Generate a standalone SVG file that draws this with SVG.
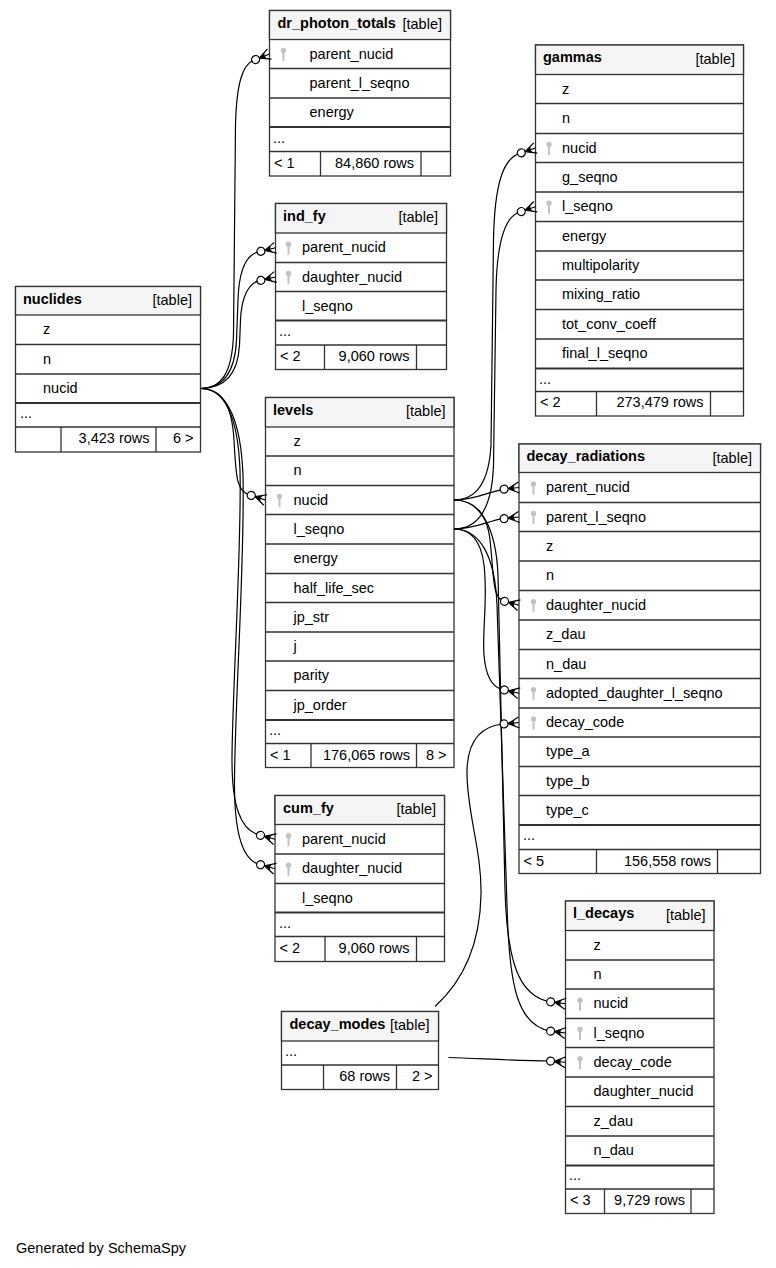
<svg xmlns="http://www.w3.org/2000/svg" xmlns:xlink="http://www.w3.org/1999/xlink" width="776" height="1268" viewBox="0 0 776 1268">
<style>
.frame{fill:#fff;stroke:#333;stroke-width:1.3}
.hdr{fill:#f5f5f5;stroke:#333;stroke-width:1.3}
.ln{fill:none;stroke:#333;stroke-width:1.3}
.thk{fill:none;stroke:#333;stroke-width:2.2}
text{font-family:"Liberation Sans",Arial,sans-serif;font-size:14.5px;fill:#000}
.b{font-weight:bold}
.e{text-anchor:end}
.edge{fill:none;stroke:#000;stroke-width:1.2}
</style>
<defs>
<g id="key" fill="#c2c2c2">
<circle cx="0" cy="-3.6" r="2.7"/>
<rect x="-1" y="-3.6" width="2" height="10.6"/>
</g>
<g id="crow">
<path d="M-11,0 L0,-5.5 M-11,0 L0,0 M-11,0 L0,5.5" fill="none" stroke="#000" stroke-width="1.2"/>
<path d="M-11,0 L-4,-3.3 L-5.5,0 L-4,3.3 Z" fill="#000"/>
<circle cx="-15" cy="0" r="4" fill="#fff" stroke="#000" stroke-width="1.2"/>
</g>
</defs>
<rect x="0" y="0" width="776" height="1268" fill="#fff"/>

<g id="nuclides">
<rect class="frame" x="15.5" y="286.5" width="185" height="165.5"/>
<rect class="hdr" x="15.5" y="286.5" width="185" height="28.5"/>
<path class="ln" d="M15.5,344.5H200.5M15.5,374H200.5M15.5,427H200.5M61,427V452M156,427V452"/>
<path class="thk" d="M15.5,403H200.5"/>
<text class="b" x="23" y="303.5">nuclides</text>
<text class="e" x="192" y="305">[table]</text>
<text x="43" y="334.3">z</text>
<text x="43" y="363.8">n</text>
<text x="43" y="393">nucid</text>
<text x="20" y="418">...</text>
<text class="e" x="149.5" y="443">3,423 rows</text>
<text class="e" x="193.5" y="443">6 &gt;</text>
</g>

<g id="dr_photon_totals">
<rect class="frame" x="269.5" y="10.5" width="181" height="165.5"/>
<rect class="hdr" x="269.5" y="10.5" width="181" height="29"/>
<path class="ln" d="M269.5,68.5H450.5M269.5,98H450.5M269.5,151.5H450.5M320.5,151.5V176M421,151.5V176"/>
<path class="thk" d="M269.5,127H450.5"/>
<text class="b" x="277.5" y="27.5">dr_photon_totals</text>
<text class="e" x="442" y="29">[table]</text>
<use xlink:href="#key" x="283.5" y="54"/>
<text x="309.5" y="58.5">parent_nucid</text>
<text x="309.5" y="87.8">parent_l_seqno</text>
<text x="309.5" y="117">energy</text>
<text x="273" y="142.5">...</text>
<text x="274" y="167.5">&lt; 1</text>
<text class="e" x="414" y="167.5">84,860 rows</text>
</g>

<g id="ind_fy">
<rect class="frame" x="275.5" y="203.5" width="171" height="166"/>
<rect class="hdr" x="275.5" y="203.5" width="171" height="29.5"/>
<path class="ln" d="M275.5,262.5H446.5M275.5,291.5H446.5M275.5,345H446.5M324.5,345V369.5M416.5,345V369.5"/>
<path class="thk" d="M275.5,320.5H446.5"/>
<text class="b" x="283" y="220.5">ind_fy</text>
<text class="e" x="438" y="222">[table]</text>
<use xlink:href="#key" x="288.5" y="247.75"/>
<use xlink:href="#key" x="288.5" y="277"/>
<text x="302" y="252.3">parent_nucid</text>
<text x="302" y="281.5">daughter_nucid</text>
<text x="302" y="310.5">l_seqno</text>
<text x="279" y="335.5">...</text>
<text x="280" y="361">&lt; 2</text>
<text class="e" x="409.5" y="361">9,060 rows</text>
</g>

<g id="gammas">
<rect class="frame" x="535.5" y="45" width="208" height="371"/>
<rect class="hdr" x="535.5" y="45" width="208" height="29.5"/>
<path class="ln" d="M535.5,103.5H743.5M535.5,133.5H743.5M535.5,162.5H743.5M535.5,192H743.5M535.5,221.5H743.5M535.5,251H743.5M535.5,280H743.5M535.5,309.5H743.5M535.5,339H743.5M535.5,391.5H743.5M596.5,391.5V416M710.5,391.5V416"/>
<path class="thk" d="M535.5,368.5H743.5"/>
<text class="b" x="543" y="62">gammas</text>
<text class="e" x="735" y="63.5">[table]</text>
<use xlink:href="#key" x="549" y="148"/>
<use xlink:href="#key" x="549" y="206.75"/>
<text x="562" y="93.5">z</text>
<text x="562" y="123">n</text>
<text x="562" y="152.5">nucid</text>
<text x="562" y="181.8">g_seqno</text>
<text x="562" y="211.3">l_seqno</text>
<text x="562" y="240.8">energy</text>
<text x="562" y="270">multipolarity</text>
<text x="562" y="299.3">mixing_ratio</text>
<text x="562" y="328.8">tot_conv_coeff</text>
<text x="562" y="358.3">final_l_seqno</text>
<text x="539" y="383.5">...</text>
<text x="540" y="407">&lt; 2</text>
<text class="e" x="703.5" y="407">273,479 rows</text>
</g>

<g id="levels">
<rect class="frame" x="265.5" y="397.5" width="188.5" height="370"/>
<rect class="hdr" x="265.5" y="397.5" width="188.5" height="29.5"/>
<path class="ln" d="M265.5,456H454M265.5,485.5H454M265.5,514.5H454M265.5,544H454M265.5,573.5H454M265.5,602.5H454M265.5,632H454M265.5,661H454M265.5,690.5H454M265.5,743.5H454M311,743.5V767.5M416.5,743.5V767.5"/>
<path class="thk" d="M265.5,720H454"/>
<text class="b" x="273" y="414.5">levels</text>
<text class="e" x="445.5" y="416">[table]</text>
<use xlink:href="#key" x="279.5" y="500"/>
<text x="293.5" y="446">z</text>
<text x="293.5" y="475.3">n</text>
<text x="293.5" y="504.5">nucid</text>
<text x="293.5" y="533.8">l_seqno</text>
<text x="293.5" y="563.3">energy</text>
<text x="293.5" y="592.5">half_life_sec</text>
<text x="293.5" y="621.8">jp_str</text>
<text x="293.5" y="651">j</text>
<text x="293.5" y="680.3">parity</text>
<text x="293.5" y="709.8">jp_order</text>
<text x="269" y="735">...</text>
<text x="270" y="759.5">&lt; 1</text>
<text class="e" x="410" y="759.5">176,065 rows</text>
<text class="e" x="446.5" y="759.5">8 &gt;</text>
</g>

<g id="decay_radiations">
<rect class="frame" x="519" y="444" width="241.5" height="429.5"/>
<rect class="hdr" x="519" y="444" width="241.5" height="28.5"/>
<path class="ln" d="M519,502.5H760.5M519,531.5H760.5M519,561H760.5M519,590.5H760.5M519,620H760.5M519,649.5H760.5M519,678.5H760.5M519,708H760.5M519,737H760.5M519,766.5H760.5M519,795.5H760.5M519,849.5H760.5M596.5,849.5V873.5M717.5,849.5V873.5"/>
<path class="thk" d="M519,825H760.5"/>
<text class="b" x="526.5" y="461">decay_radiations</text>
<text class="e" x="752" y="462.5">[table]</text>
<use xlink:href="#key" x="533.5" y="487.5"/>
<use xlink:href="#key" x="533.5" y="517"/>
<use xlink:href="#key" x="533.5" y="605.25"/>
<use xlink:href="#key" x="533.5" y="693.25"/>
<use xlink:href="#key" x="533.5" y="722.5"/>
<text x="546" y="492">parent_nucid</text>
<text x="546" y="521.5">parent_l_seqno</text>
<text x="546" y="550.8">z</text>
<text x="546" y="580.3">n</text>
<text x="546" y="609.8">daughter_nucid</text>
<text x="546" y="639.3">z_dau</text>
<text x="546" y="668.5">n_dau</text>
<text x="546" y="697.8">adopted_daughter_l_seqno</text>
<text x="546" y="727">decay_code</text>
<text x="546" y="756.3">type_a</text>
<text x="546" y="785.5">type_b</text>
<text x="546" y="814.8">type_c</text>
<text x="523" y="840">...</text>
<text x="523.5" y="865.5">&lt; 5</text>
<text class="e" x="711" y="865.5">156,558 rows</text>
</g>

<g id="cum_fy">
<rect class="frame" x="275" y="795.5" width="169.5" height="166"/>
<rect class="hdr" x="275" y="795.5" width="169.5" height="29"/>
<path class="ln" d="M275,854H444.5M275,883.5H444.5M275,936.5H444.5M325,936.5V961.5M416.5,936.5V961.5"/>
<path class="thk" d="M275,912.5H444.5"/>
<text class="b" x="283" y="812.5">cum_fy</text>
<text class="e" x="436" y="814">[table]</text>
<use xlink:href="#key" x="288.5" y="839.25"/>
<use xlink:href="#key" x="288.5" y="868.75"/>
<text x="302" y="843.8">parent_nucid</text>
<text x="302" y="873.3">daughter_nucid</text>
<text x="302" y="902.5">l_seqno</text>
<text x="279" y="927.5">...</text>
<text x="279.5" y="952.5">&lt; 2</text>
<text class="e" x="409.5" y="952.5">9,060 rows</text>
</g>

<g id="l_decays">
<rect class="frame" x="565.5" y="901" width="148.5" height="312.5"/>
<rect class="hdr" x="565.5" y="901" width="148.5" height="29.5"/>
<path class="ln" d="M565.5,960H714M565.5,989H714M565.5,1018.5H714M565.5,1047.5H714M565.5,1077H714M565.5,1106.5H714M565.5,1136H714M565.5,1189H714M604.5,1189V1213.5M691,1189V1213.5"/>
<path class="thk" d="M565.5,1165.5H714"/>
<text class="b" x="573" y="918">l_decays</text>
<text class="e" x="705.5" y="919.5">[table]</text>
<use xlink:href="#key" x="580" y="1003.75"/>
<use xlink:href="#key" x="580" y="1033"/>
<use xlink:href="#key" x="580" y="1062.25"/>
<text x="593.5" y="949.8">z</text>
<text x="593.5" y="979">n</text>
<text x="593.5" y="1008.3">nucid</text>
<text x="593.5" y="1037.5">l_seqno</text>
<text x="593.5" y="1066.8">decay_code</text>
<text x="593.5" y="1096.3">daughter_nucid</text>
<text x="593.5" y="1125.8">z_dau</text>
<text x="593.5" y="1155.3">n_dau</text>
<text x="569" y="1180">...</text>
<text x="570" y="1204.5">&lt; 3</text>
<text class="e" x="685" y="1204.5">9,729 rows</text>
</g>

<g id="decay_modes">
<rect class="frame" x="281.5" y="1011.5" width="157" height="78"/>
<rect class="hdr" x="281.5" y="1011.5" width="157" height="29.5"/>
<path class="ln" d="M281.5,1065H438.5M323.5,1065V1089.5M396.5,1065V1089.5"/>
<text class="b" x="289.5" y="1028.5">decay_modes</text>
<text class="e" x="429.5" y="1030">[table]</text>
<text x="285" y="1056">...</text>
<text class="e" x="390" y="1080.5">68 rows</text>
<text class="e" x="432.5" y="1080.5">2 &gt;</text>
</g>

<g id="connectors">
<path class="edge" d="M200.5,388.5 C222,388.5 232,372 233.5,335 L235.5,125 C236.5,85 242,64 254.5,60"/>
<path class="edge" d="M200.5,388.5 C223,388.5 235,372 236.5,340 L238,300 C239,268 247,254 259.3,251.7"/>
<path class="edge" d="M200.5,388.5 C225,388.5 238,374 239.5,345 L240.5,320 C241.5,296 249,283 259.3,280.7"/>
<path class="edge" d="M200.5,388.5 C222,388.5 232,405 234,440 C236,475 236,492 250,495"/>
<path class="edge" d="M200.5,388.5 C226,388.5 238,420 240,470 C242,540 232,700 232,760 C232,805 240,830 259.3,835"/>
<path class="edge" d="M200.5,388.5 C229,388.5 241,425 243,475 C245,560 235,700 234.5,780 C234,830 242,860 259.3,864.3"/>
<path class="edge" d="M454,500 C477,500 489,482 491,445 L493.5,240 C494.5,185 503,158 520,153.3"/>
<path class="edge" d="M454,529 C479,529 492,508 493.5,465 L496,290 C497,240 505,216 520,212"/>
<path class="edge" d="M454,500 C476,500 487,492 503.3,489.3"/>
<path class="edge" d="M454,529 C476,529 487,521 503.3,518.7"/>
<path class="edge" d="M454,500 C475,500 487,514 490,540 C494,575 492,597 503.3,601"/>
<path class="edge" d="M454,529 C470,529 481,540 484,565 C488,600 482,630 484,655 C486,680 494,688 503.3,689.7"/>
<path class="edge" d="M435,1006.5 C462,982 480,945 481,895 C482,850 466,810 467,770 C468,740 482,726 503.3,724"/>
<path class="edge" d="M454,500 C481,500 496,528 498,575 L505,890 C507,960 518,996 550,1001.7"/>
<path class="edge" d="M454,529 C480,529 495,556 497,605 L507,905 C509,985 517,1025 550,1031"/>
<path class="edge" d="M448.5,1057.5 C480,1058.5 520,1061 550,1061"/>
<use xlink:href="#crow" transform="translate(269.5,54) rotate(-21.8)"/>
<use xlink:href="#crow" transform="translate(275.5,247.75) rotate(-13.7)"/>
<use xlink:href="#crow" transform="translate(275.5,277) rotate(-12.9)"/>
<use xlink:href="#crow" transform="translate(265.5,500) rotate(17.9)"/>
<use xlink:href="#crow" transform="translate(275,839.25) rotate(15.1)"/>
<use xlink:href="#crow" transform="translate(275,868.75) rotate(15.8)"/>
<use xlink:href="#crow" transform="translate(535.5,148) rotate(-18.9)"/>
<use xlink:href="#crow" transform="translate(535.5,206.75) rotate(-18.7)"/>
<use xlink:href="#crow" transform="translate(519,487.5) rotate(-6.5)"/>
<use xlink:href="#crow" transform="translate(519,517) rotate(-6.2)"/>
<use xlink:href="#crow" transform="translate(519,605.25) rotate(15.1)"/>
<use xlink:href="#crow" transform="translate(519,693.25) rotate(12.7)"/>
<use xlink:href="#crow" transform="translate(519,722.5) rotate(-5.5)"/>
<use xlink:href="#crow" transform="translate(565.5,1003.75) rotate(7.5)"/>
<use xlink:href="#crow" transform="translate(565.5,1033) rotate(7.4)"/>
<use xlink:href="#crow" transform="translate(565.5,1062.25) rotate(4.6)"/>
</g>

<text x="16" y="1253">Generated by SchemaSpy</text>
</svg>
